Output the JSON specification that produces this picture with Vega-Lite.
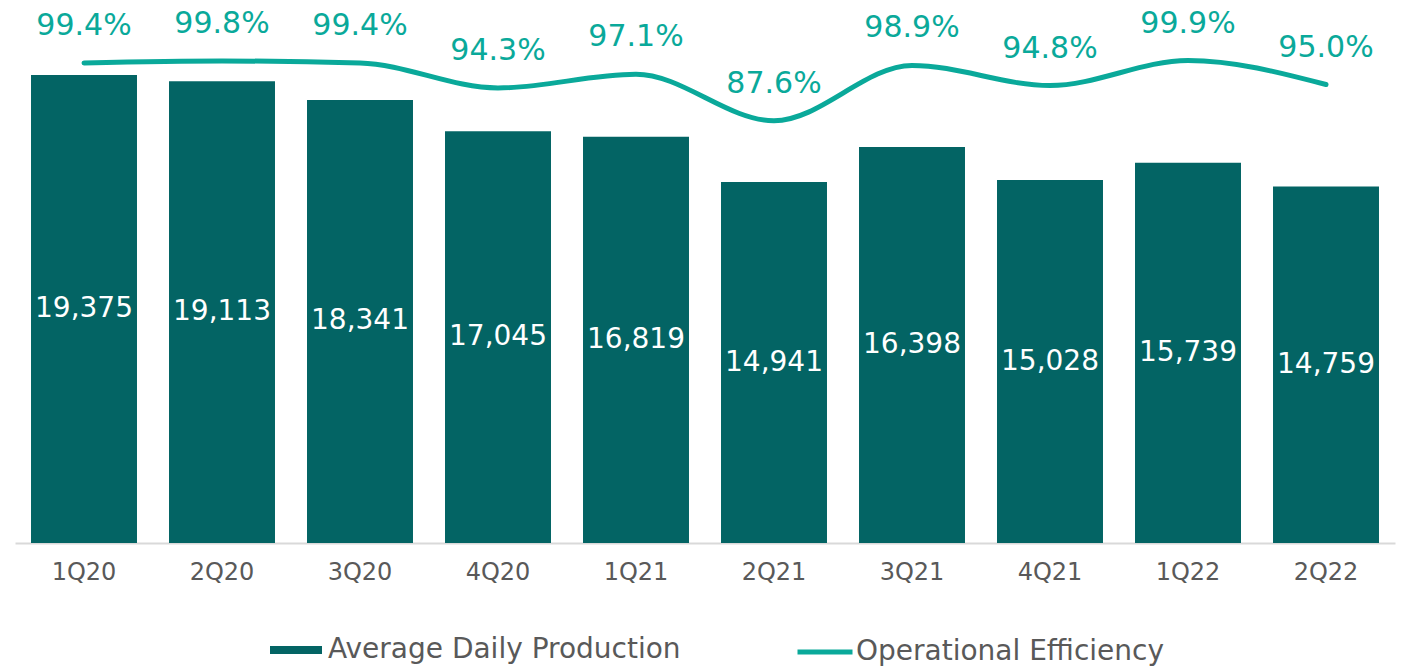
{
  "$schema": "https://vega.github.io/schema/vega-lite/v6.json",
  "width": 1380,
  "height": 543,
  "autosize": {"type": "none"},
  "padding": {"left": 15, "top": 0, "right": 8, "bottom": 123},
  "background": "#ffffff",
  "config": {"view": {"stroke": null}, "font": "DejaVu Sans"},
  "data": {
    "values": [
      {"q": "1Q20", "prod": 19375, "eff": 0.994},
      {"q": "2Q20", "prod": 19113, "eff": 0.998},
      {"q": "3Q20", "prod": 18341, "eff": 0.994},
      {"q": "4Q20", "prod": 17045, "eff": 0.943},
      {"q": "1Q21", "prod": 16819, "eff": 0.971},
      {"q": "2Q21", "prod": 14941, "eff": 0.876},
      {"q": "3Q21", "prod": 16398, "eff": 0.989},
      {"q": "4Q21", "prod": 15028, "eff": 0.948},
      {"q": "1Q22", "prod": 15739, "eff": 0.999},
      {"q": "2Q22", "prod": 14759, "eff": 0.950}
    ]
  },
  "encoding": {
    "x": {
      "field": "q",
      "type": "nominal",
      "sort": null,
      "scale": {"paddingInner": 0.232, "paddingOuter": 0.116},
      "axis": {
        "title": null,
        "ticks": false,
        "domainColor": "#d9d9d9",
        "domainWidth": 2,
        "labelAngle": 0,
        "labelFont": "DejaVu Sans",
        "labelFontSize": 24,
        "labelColor": "#595959",
        "labelPadding": 17,
        "grid": false
      }
    }
  },
  "layer": [
    {
      "mark": {"type": "bar"},
      "encoding": {
        "y": {"field": "prod", "type": "quantitative", "scale": {"domain": [0, 22480], "nice": false, "zero": true}, "axis": null},
        "color": {
          "datum": "Average Daily Production",
          "scale": {"range": ["#036464"]},
          "legend": {
            "title": null,
            "orient": "none",
            "legendX": 255,
            "legendY": 624,
            "padding": 0,
            "symbolType": "M-1,-0.15H1V0.15H-1Z",
            "symbolSize": 2704,
            "symbolStrokeWidth": 0,
            "symbolOpacity": 1,
            "labelFont": "DejaVu Sans",
            "labelFontSize": 28,
            "labelColor": "#595959",
            "labelOffset": 6,
            "labelLimit": 600
          }
        }
      }
    },
    {
      "mark": {"type": "text", "color": "#ffffff", "fontSize": 28, "baseline": "middle", "align": "center", "font": "DejaVu Sans"},
      "encoding": {
        "y": {"field": "prod", "type": "quantitative", "scale": {"domain": [0, 44960], "nice": false, "zero": true}, "axis": null},
        "text": {"field": "prod", "type": "quantitative", "format": ","}
      }
    },
    {
      "mark": {"type": "line", "strokeWidth": 5, "interpolate": "monotone", "strokeCap": "round"},
      "encoding": {
        "y": {"field": "eff", "type": "quantitative", "scale": {"domain": [0.0144, 1.1225], "nice": false, "zero": false}, "axis": null},
        "stroke": {
          "datum": "Operational Efficiency",
          "scale": {"range": ["#0aa99a"]},
          "legend": {
            "title": null,
            "orient": "none",
            "legendX": 780,
            "legendY": 622,
            "padding": 0,
            "symbolType": "M-1,0H1",
            "symbolSize": 3025,
            "symbolStrokeWidth": 5,
            "labelFont": "DejaVu Sans",
            "labelFontSize": 28,
            "labelColor": "#595959",
            "labelOffset": 1,
            "labelLimit": 600
          }
        }
      }
    },
    {
      "mark": {"type": "text", "color": "#0aa99a", "fontSize": 30, "baseline": "alphabetic", "align": "center", "dy": -28, "font": "DejaVu Sans"},
      "encoding": {
        "y": {"field": "eff", "type": "quantitative", "scale": {"domain": [0.0144, 1.1225], "nice": false, "zero": false}, "axis": null},
        "text": {"field": "eff", "type": "quantitative", "format": ".1%"}
      }
    }
  ],
  "resolve": {"scale": {"y": "independent"}}
}
